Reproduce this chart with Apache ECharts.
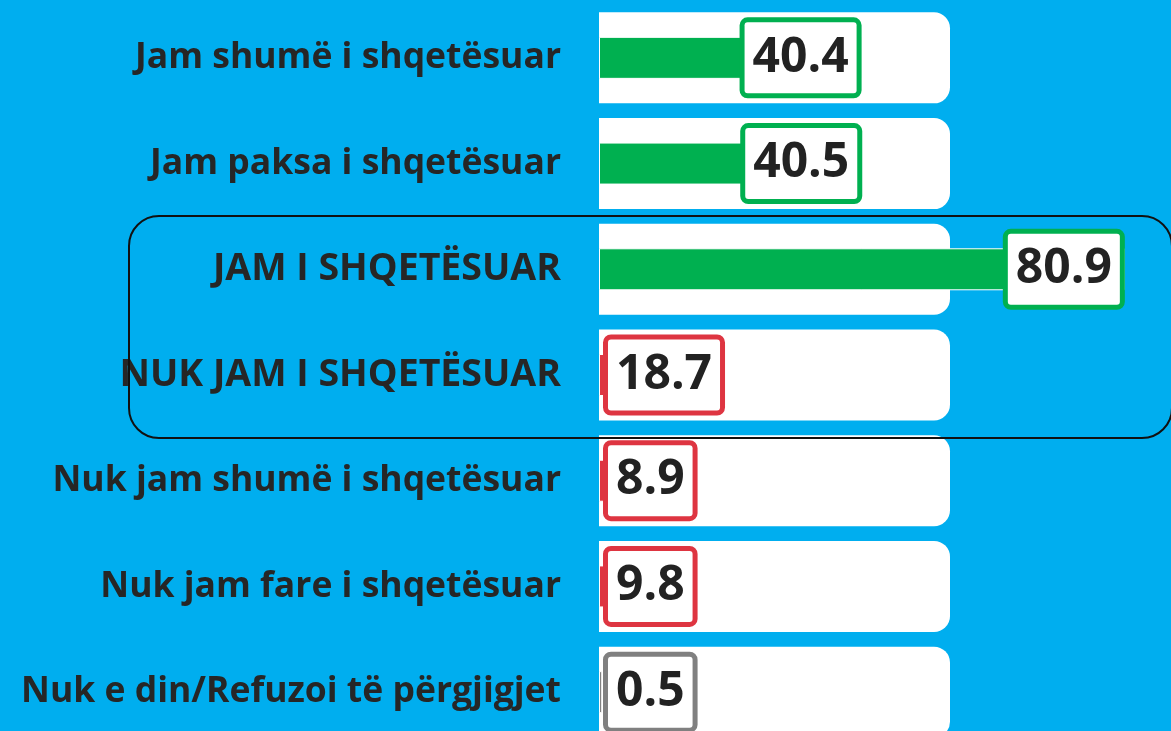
<!DOCTYPE html>
<html>
<head>
<meta charset="utf-8">
<script src="https://cdn.jsdelivr.net/npm/echarts@6/dist/echarts.min.js"></script>
<style>
html,body{margin:0;padding:0;background:#00AEEF;}
#chart{width:1171px;height:731px;}
</style>
</head>
<body>
<div id="chart"></div>
<script>
const categories = [
  'Jam shumë i shqetësuar',
  'Jam paksa i shqetësuar',
  'JAM I SHQETËSUAR',
  'NUK JAM I SHQETËSUAR',
  'Nuk jam shumë i shqetësuar',
  'Nuk jam fare i shqetësuar',
  'Nuk e din/Refuzoi të përgjigjet'
];
const values = [40.4, 40.5, 80.9, 18.7, 8.9, 9.8, 0.5];
const groups = ['pos', 'pos', 'pos', 'neg', 'neg', 'neg', 'dk'];
const trackValues = [54.0, 54.0, 54.0, 54.0, 54.0, 54.0, 54.0];

const groupColors = { pos: '#00B050', neg: '#DE3541', dk: '#808080' };

const chart = echarts.init(document.getElementById('chart'));

const categoryItems = categories.map(c => ({
  value: c,
  textStyle: { fontSize: c === c.toUpperCase() ? 37.5 : 35.5 }
}));

const dataItems = values.map((v, i) => ({
  value: v,
  itemStyle: { color: groupColors[groups[i]] },
  label: {
    position: v > 20 ? 'insideRight' : 'insideLeft',
    distance: v > 20 ? 5 : 9,
    borderColor: groupColors[groups[i]]
  }
}));

chart.setOption({
  backgroundColor: '#00AEEF',
  animation: false,
  grid: { left: 599, top: 5, width: 572, height: 740, outerBoundsMode: 'none', containLabel: false },
  xAxis: { type: 'value', min: 0, max: 88, show: false },
  yAxis: [
    {
      type: 'category', data: categoryItems, inverse: true,
      axisLine: { show: false }, axisTick: { show: false }, splitLine: { show: false },
      axisLabel: {
        margin: 38, fontSize: 35.5, fontWeight: 'bold', color: '#262626',
        fontFamily: 'Open Sans'
      }
    },
    {
      type: 'category', data: categories, inverse: true, show: false
    }
  ],
  series: [
    {
      type: 'bar', yAxisIndex: 1, data: trackValues, barWidth: 91,
      silent: true,
      itemStyle: { color: '#FFFFFF', borderRadius: [0, 16, 16, 0] }
    },
    {
      type: 'bar', yAxisIndex: 0, data: dataItems, barWidth: 42,
      itemStyle: { borderColor: '#FFFFFF', borderWidth: 1 },
      label: {
        show: true,
        formatter: p => p.value.toFixed(1),
        fontFamily: 'Open Sans', fontSize: 48, fontWeight: 'bold', color: '#222222',
        lineHeight: 55,
        backgroundColor: '#FFFFFF', borderWidth: 5, borderRadius: 3,
        padding: [8, 8, 8, 8]
      }
    }
  ],
  graphic: [
    {
      type: 'rect', z: 100,
      shape: { x: 129, y: 216, width: 1043, height: 222, r: 30 },
      style: { fill: 'none', stroke: '#111111', lineWidth: 2 }
    }
  ]
});
</script>
</body>
</html>
